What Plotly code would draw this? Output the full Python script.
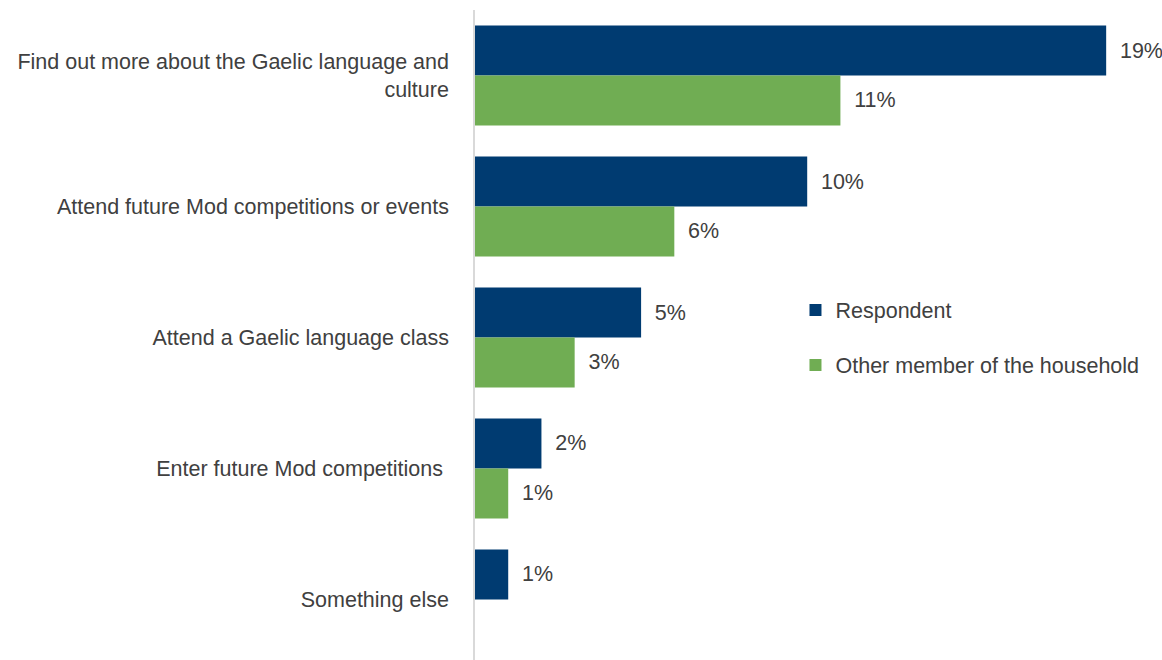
import plotly.graph_objects as go

categories = [
    "Find out more about the Gaelic language and<br>culture",
    "Attend future Mod competitions or events",
    "Attend a Gaelic language class",
    "Enter future Mod competitions\u00a0",
    "Something else",
]
respondent = [19, 10, 5, 2, 1]
other_member = [11, 6, 3, 1, None]

NAVY = "#003B71"
GREEN = "#70AD53"
TEXT = "#404040"
FONT = "Liberation Sans, Arial, sans-serif"
SIZE = 21.5


def labels(vals):
    # en space keeps the value clear of the bar end
    return [f"\u2002{v}%" if v is not None else "" for v in vals]


fig = go.Figure()
fig.add_trace(go.Bar(
    y=categories, x=respondent, orientation="h", name="Respondent",
    marker=dict(color=NAVY, line=dict(width=0)),
    text=labels(respondent), textposition="outside",
    textfont=dict(size=SIZE, color=TEXT, family=FONT),
    cliponaxis=False, legendgroup="a",
))
fig.add_trace(go.Bar(
    y=categories, x=other_member, orientation="h", name="Other member of the household",
    marker=dict(color=GREEN, line=dict(width=0)),
    text=labels(other_member), textposition="outside",
    textfont=dict(size=SIZE, color=TEXT, family=FONT),
    cliponaxis=False, legendgroup="b",
))

fig.update_layout(
    width=1162, height=660,
    margin=dict(l=475, r=6, t=10, b=0),
    paper_bgcolor="white", plot_bgcolor="white",
    barmode="group", bargap=0.237, bargroupgap=0,
    font=dict(family=FONT, size=SIZE, color=TEXT),
    showlegend=True,
    legend=dict(
        x=0.4706, y=0.496, xanchor="left", yanchor="middle",
        font=dict(size=SIZE, color=TEXT, family=FONT),
        tracegroupgap=24, bgcolor="rgba(0,0,0,0)",
    ),
    uniformtext=dict(mode=False),
)
fig.update_xaxes(range=[0, 20.5], visible=False, showgrid=False, zeroline=False)
fig.update_yaxes(
    type="category", range=[4.462, -0.5],
    showgrid=False, zeroline=False,
    showline=True, linecolor="#D9D9D9", linewidth=1.5,
    ticks="", ticklabelstandoff=20,
    tickfont=dict(size=SIZE, color=TEXT, family=FONT),
)

fig.write_html("out.html")
